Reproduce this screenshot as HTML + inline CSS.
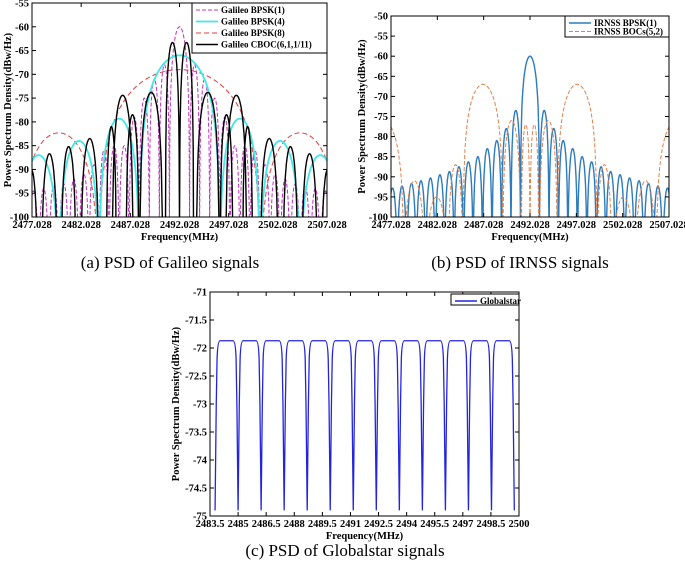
<!DOCTYPE html>
<html><head><meta charset="utf-8">
<style>
body{margin:0;background:#fff;}
svg{display:block;font-family:"Liberation Serif",serif;}
.tk{font-size:10.5px;font-weight:bold;fill:#000;}
.ax{font-size:10.5px;font-weight:bold;fill:#000;}
.cap{font-size:17px;fill:#000;}
.lg{font-size:9px;font-weight:bold;fill:#000;}
</style></head>
<body>
<svg id="s" width="685" height="572" viewBox="0 0 685 572"></svg>
<script>
// ---------- data ----------
const aXTicks=["2477.028","2482.028","2487.028","2492.028","2497.028","2502.028","2507.028"];
const aYTicks=[-55,-60,-65,-70,-75,-80,-85,-90,-95,-100];
const center=2492.028;
const galBpsk1Peaks=[-60,-68,-71,-75,-79,-85,-85,-86,-89,-91,-92,-93,-93.5,-94,-94.5];
const galBpsk4Peaks=[-66,-79.3,-84,-87];
const galBpsk8Peaks=[-69,-82.3];
const cbocLobes=[[2490.6,2492.028,-63.3],[2488.0,2490.3,-73.8],[2486.6,2487.9,-78.5],[2485.2,2487.3,-74.4],[2484.6,2485.6,-81],[2482.0,2483.8,-83.5],[2480.0,2481.5,-85.2],[2478.0,2479.6,-86.7],[2476.3,2477.6,-90]];
const bXTicks=aXTicks;
const bYTicks=[-50,-55,-60,-65,-70,-75,-80,-85,-90,-95,-100];
const irBpsk1Peaks=[-60,-73.5,-78,-81,-83,-85,-86.3,-87.5,-88.7,-89.5,-90.3,-91,-91.7,-92.3,-92.8,-93.3];
const bocLobes=[[2491.1,2492.028,-77],[2489.1,2491.0,-76],[2484.8,2489.1,-67],[2483.2,2484.8,-87],[2480.7,2483.2,-95],[2478.4,2480.7,-91],[2474.0,2478.4,-76]];
const cXTicks=["2483.5","2485","2486.5","2488","2489.5","2491","2492.5","2494","2495.5","2497","2498.5","2500"];
const cYTicks=[-71,-71.5,-72,-72.5,-73,-73.5,-74,-74.5,-75];
const gsDips=[2483.77,2485.0,2486.23,2487.46,2488.69,2489.92,2491.15,2492.38,2493.61,2494.84,2496.07,2497.30,2498.53,2499.75];
const gsLevel=-71.87, gsFloor=-74.9;

// ---------- helpers ----------
const S=document.getElementById('s'),NS='http://www.w3.org/2000/svg';
function mk(tag,at,parent){const e=document.createElementNS(NS,tag);for(const k in at)e.setAttribute(k,at[k]);(parent||S).appendChild(e);return e;}
function panel(P){
  const g=mk('g',{});
  
  
  const X=v=>P.l+(v-P.x0)/(P.x1-P.x0)*(P.r-P.l);
  const Y=v=>P.t+(P.y1-v)/(P.y1-P.y0)*(P.b-P.t);
  P.X=X;P.Y=Y;
  const cp='c'+P.name;
  const d=mk('defs',{},g);const c=mk('clipPath',{id:cp},d);mk('rect',{x:P.l,y:P.t,width:P.r-P.l,height:P.b-P.t},c);
  P.series=mk('g',{'clip-path':'url(#'+cp+')'},g);
  P.g=g;
  mk('rect',{x:P.l,y:P.t,width:P.r-P.l,height:P.b-P.t,fill:'none',stroke:'#000','stroke-width':1},g);
  P.yt.forEach(v=>{const y=Y(v);
    mk('line',{x1:P.l,x2:P.l+4,y1:y,y2:y,stroke:'#000'},g);mk('line',{x1:P.r,x2:P.r-4,y1:y,y2:y,stroke:'#000'},g);
    const t=mk('text',{x:P.l-3,y:y+3.5,'text-anchor':'end',class:'tk'},g);t.textContent=v;
    
    });
  P.xt.forEach(s=>{const x=X(parseFloat(s));
    mk('line',{x1:x,x2:x,y1:P.b,y2:P.b-4,stroke:'#000'},g);mk('line',{x1:x,x2:x,y1:P.t,y2:P.t+4,stroke:'#000'},g);
    const t=mk('text',{x:x,y:P.b+11,'text-anchor':'middle',class:'tk'},g);t.textContent=s;
    
    });
  const xl=mk('text',{x:(P.l+P.r)/2,y:P.b+23,'text-anchor':'middle',class:'ax'},g);xl.textContent='Frequency(MHz)';
  
  
  const yx=P.ylx,yy=(P.t+P.b)/2;
  const yl=mk('text',{x:yx,y:yy,'text-anchor':'middle',class:'ax',transform:`rotate(-90 ${yx} ${yy})`},g);yl.textContent='Power Spectrum Density(dBw/Hz)';
  
  
  const cap=mk('text',{x:P.capx,y:P.capy,'text-anchor':'middle',class:'cap'},g);cap.textContent=P.cap;
  
  
  return P;
}
function lobePts(P,a,b,pk){const pts=[];const N=40;for(let i=0;i<=N;i++){const t=i/N;let s=Math.sin(Math.PI*t);s=s*s;let db=pk+10*Math.log10(Math.max(s,1e-9));db=Math.max(db,P.y0-2);pts.push([P.X(a+(b-a)*t),P.Y(db)]);}return pts;}
function lobesFromPeaks(peaks,w){const L=[];L.push([center-w,center+w,peaks[0]]);for(let n=1;n<peaks.length;n++){L.push([center-w*(n+1),center-w*n,peaks[n]]);L.push([center+w*n,center+w*(n+1),peaks[n]]);}return L;}
function mirror(lobes){const L=[];lobes.forEach(o=>{L.push(o);L.push([2*center-o[1],2*center-o[0],o[2]]);});return L;}
function drawLobes(P,lobes,style,name){let d='';lobes.sort((p,q)=>p[0]-q[0]).forEach(o=>{const pts=lobePts(P,o[0],o[1],o[2]);d+='M'+pts.map(p=>p[0].toFixed(1)+','+p[1].toFixed(1)).join('L');});
  const p=mk('path',Object.assign({d:d,fill:'none'},style),P.series);
  
  }
function legend(P,x,y,w,h,items){const g=mk('g',{},P.g);
  
  
  mk('rect',{x:x,y:y,width:w,height:h,fill:'#fff',stroke:'#000'},g);
  items.forEach((it,i)=>{const yy=y+7+i*(h-4)/items.length;
    mk('line',Object.assign({x1:x+4,x2:x+26,y1:yy,y2:yy},it.s),g);
    const t=mk('text',{x:x+29,y:yy+3,class:'lg'},g);t.textContent=it.t;
    
    });}

// ---------- panel a ----------
const A=panel({name:'galileo-chart',l:32,r:327,t:3,b:217,x0:2477.028,x1:2507.028,y0:-100,y1:-55,xt:aXTicks,yt:aYTicks,ylx:11,cap:'(a)  PSD of Galileo signals',capx:170,capy:268});
const sM={stroke:'#c030c0','stroke-width':1,'stroke-dasharray':'4,2'},sC={stroke:'#40e8e8','stroke-width':1.8},sR={stroke:'#e03c3c','stroke-width':1,'stroke-dasharray':'5,3'},sK={stroke:'#000','stroke-width':1.4};
drawLobes(A,lobesFromPeaks(galBpsk8Peaks,8.184),sR,'series-bpsk8');
drawLobes(A,lobesFromPeaks(galBpsk1Peaks,1.023),sM,'series-bpsk1');
drawLobes(A,lobesFromPeaks(galBpsk4Peaks,4.092),sC,'series-bpsk4');
drawLobes(A,mirror(cbocLobes),sK,'series-cboc');
legend(A,192,3,135,50,[{t:'Galileo BPSK(1)',s:sM},{t:'Galileo BPSK(4)',s:sC},{t:'Galileo BPSK(8)',s:sR},{t:'Galileo CBOC(6,1,1/11)',s:sK}]);

// ---------- panel b ----------
const B=panel({name:'irnss-chart',l:391,r:669,t:16,b:217,x0:2477.028,x1:2507.028,y0:-100,y1:-50,xt:bXTicks,yt:bYTicks,ylx:365,cap:'(b)  PSD of IRNSS signals',capx:520,capy:268});
const sB={stroke:'#2c7bbd','stroke-width':1.4},sO={stroke:'#e0824e','stroke-width':1,'stroke-dasharray':'4,2'};
drawLobes(B,lobesFromPeaks(irBpsk1Peaks,1.023),sB,'series-irnss-bpsk1');
drawLobes(B,mirror(bocLobes),sO,'series-irnss-bocs');
legend(B,565,16,104,21,[{t:'IRNSS BPSK(1)',s:sB},{t:'IRNSS BOCs(5,2)',s:sO}]);

// ---------- panel c ----------
const C=panel({name:'globalstar-chart',l:210,r:519,t:292,b:516,x0:2483.5,x1:2500,y0:-75,y1:-71,xt:cXTicks,yt:cYTicks,ylx:179,cap:'(c)  PSD of Globalstar signals',capx:345,capy:556});
(function(){let d='';for(let i=0;i<gsDips.length;i++){const x=C.X(gsDips[i]);
  if(i===0)d+=`M${x},${C.Y(gsFloor)}`;else d+=`L${x},${C.Y(gsFloor)}`;
  if(i<gsDips.length-1){const x2=C.X(gsDips[i+1]);
    d+=`L${x+1.2},${C.Y(-73)}L${x+2},${C.Y(-72.2)}Q${x+2.6},${C.Y(gsLevel)} ${x+5},${C.Y(gsLevel)}L${x2-5},${C.Y(gsLevel)}Q${x2-2.6},${C.Y(gsLevel)} ${x2-2},${C.Y(-72.2)}L${x2-1.2},${C.Y(-73)}`;}}
  const p=mk('path',{d:d,fill:'none',stroke:'#2424e0','stroke-width':1.3},C.series);
  
  })();
legend(C,451,294,68,11,[{t:'Globalstar',s:{stroke:'#2424e0','stroke-width':1.4}}]);
</script>
</body></html>
